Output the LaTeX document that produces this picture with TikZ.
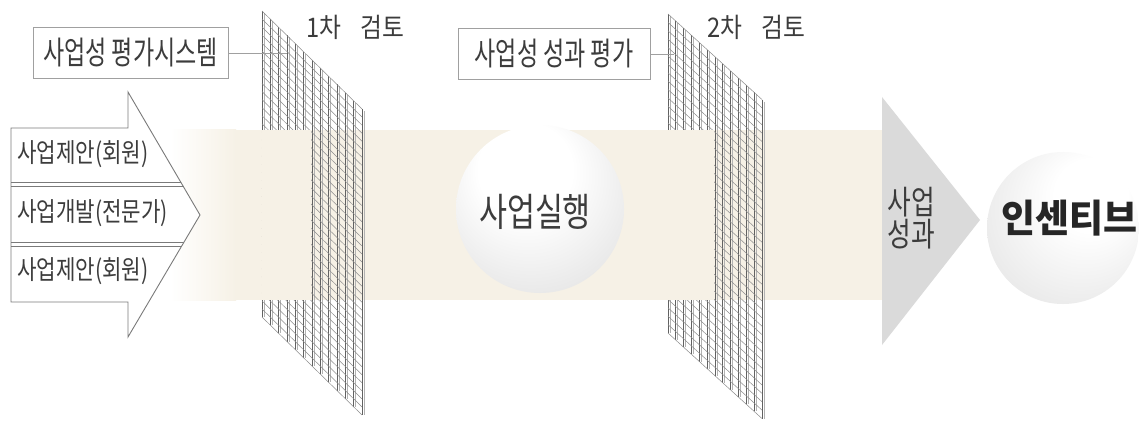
\documentclass[tikz,border=0pt]{standalone}
\usepackage{fontspec}
\newfontfamily\krc[FakeStretch=0.8]{Noto Sans CJK KR}
\newfontfamily\krd[FakeStretch=0.72]{Noto Sans CJK KR}
\newfontfamily\kre[FakeStretch=0.78]{Noto Sans CJK KR}
\newfontfamily\krf[FakeStretch=0.88]{Noto Sans CJK KR}
\newfontfamily\krn[FakeStretch=0.96]{Noto Sans CJK KR}
\definecolor{bandc}{HTML}{F6F1E6}
\definecolor{txt}{HTML}{3C3C3C}
\definecolor{boxc}{HTML}{A0A0A0}
\definecolor{arrc}{HTML}{7A7A7A}
\definecolor{tric}{HTML}{DADADA}
\definecolor{sphedge}{HTML}{CFCFCF}
\definecolor{sphedgeb}{HTML}{D6D6D6}
\pgfdeclareradialshading{sphA}{\pgfpoint{-6bp}{16bp}}{color(0bp)=(white); color(14bp)=(white); color(52bp)=(sphedge)}
\pgfdeclareradialshading{sphB}{\pgfpoint{12bp}{14bp}}{color(0bp)=(white); color(12bp)=(white); color(52bp)=(sphedgeb)}
\newcommand\meshpanel[5]{%
  \foreach \i in {0,...,12}{
    \pgfmathsetmacro\xx{#1+\i*(#2-#1)/12}
    \draw[gridv2] ({\xx+1.8},{#3+#4*(\xx-#1)+2}) -- ({\xx+1.8},{#3+#5+#4*(\xx-#1)});
    \draw[gridv] (\xx,{#3+#4*(\xx-#1)}) -- (\xx,{#3+#5+#4*(\xx-#1)});
  }
  \foreach \j in {0,...,38}{
    \draw[grids] (#1,{#3+\j*#5/38}) -- (#2,{#3+\j*#5/38+#4*(#2-#1)});
  }
}
\begin{document}
\begin{tikzpicture}[x=1pt,y=-1pt,
  gridv/.style={draw=black!62, line width=0.7pt},
  gridv2/.style={draw=black!30, line width=0.5pt},
  grids/.style={draw=black!45, line width=0.5pt},
  lbl/.style={inner sep=0pt, text=txt},
  evalbox/.style={draw=boxc, line width=0.8pt, minimum height=51pt, inner sep=0pt, text=txt, font=\krd\fontsize{32}{34}\selectfont},
  tie/.style={draw=boxc, line width=0.8pt},
  arrowtxt/.style={lbl, anchor=west, font=\krc\fontsize{26.5}{28}\selectfont},
  reviewtxt/.style={lbl, anchor=west, font=\krf\fontsize{27}{29}\selectfont},
  sphere/.style={circle, draw=none, inner sep=0pt}]
\useasboundingbox (0,0) rectangle (1139,422);
\fill[white] (0,0) rectangle (1139,422);
% band
\shade[left color=white, right color=bandc, draw=none] (170,130) rectangle (236,300);
\fill[bandc] (235,130) rectangle (882,300);
% mesh panels
\meshpanel{262}{362}{11}{0.98}{306}
\meshpanel{668}{762}{14}{0.91}{319}
\fill[bandc] (262,130) rectangle (310.5,300);
\fill[bandc] (666,130) rectangle (714,300);
% input arrow
\draw[arrc, line width=0.9pt, fill=white, line join=miter]
  (11,128) -- (128,128) -- (128,92) -- (200,215) -- (128,337) -- (128,302) -- (11,302) -- cycle;
\draw[arrc, line width=0.8pt] (11,182) -- (181,182);
\draw[arrc, line width=0.8pt] (11,186.5) -- (183.5,186.5);
\draw[arrc, line width=0.8pt] (11,242) -- (184,242);
\draw[arrc, line width=0.8pt] (11,246.5) -- (181.5,246.5);
\node[arrowtxt] (in1) at (17,154) {사업제안(회원)};
\node[arrowtxt] (in2) at (17,213) {사업개발(전문가)};
\node[arrowtxt] (in3) at (17,271) {사업제안(회원)};
% review labels
\node[reviewtxt] (rev1) at (306,27) {1차\hspace{19pt}검토};
\node[reviewtxt] (rev2) at (707,27) {2차\hspace{19pt}검토};
% evaluation boxes
\node[evalbox, minimum width=195pt] (eval1) at (130.5,53) {사업성 평가시스템};
\node[evalbox, minimum width=192pt] (eval2) at (554,54) {사업성 성과 평가};
\coordinate (m1) at (287,53);
\coordinate (m2) at (674,54);
\draw[tie] (eval1.east) -- (m1);
\draw[tie] (eval2.east) -- (m2);
% execution sphere
\node[sphere, minimum size=168pt, shading=sphA] (execball) at (540,209) {};
\node[lbl, font=\kre\fontsize{39}{40}\selectfont] (exec) at (535,212) {사업실행};
% result triangle
\fill[tric] (882,97) -- (980,220) -- (882,345) -- cycle;
\node[lbl, align=center, font=\kre\fontsize{33}{32}\selectfont] (res) at (911,218) {사업\\성과};
% incentive sphere
\node[sphere, minimum size=152pt, shading=sphB] (incball) at (1063,228) {};
\node[lbl, text=black!85, font=\krn\bfseries\fontsize{38.5}{40}\selectfont] (inc) at (1069,218) {인센티브};
\end{tikzpicture}
\end{document}
